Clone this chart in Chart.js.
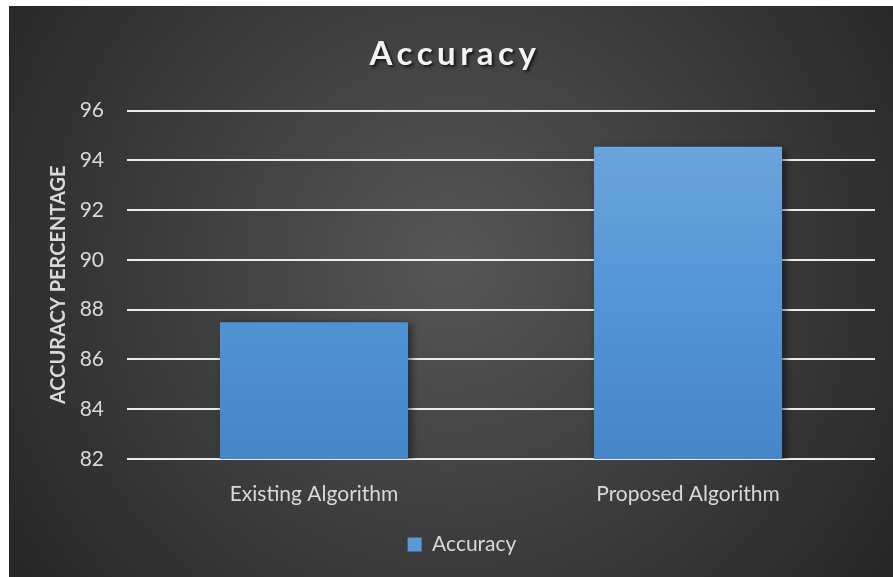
<!DOCTYPE html>
<html>
<head>
<meta charset="utf-8">
<script src="https://cdn.jsdelivr.net/npm/chart.js@4/dist/chart.umd.min.js"></script>
<style>
  html, body { margin: 0; padding: 0; background: #fff; }
  #wrap { position: absolute; left: 9px; top: 6px; width: 884px; height: 571px; }
</style>
</head>
<body>
<div id="wrap"><canvas id="bar-chart"></canvas></div>
<script>
// Data for the bar chart
const categories = ["Existing Algorithm", "Proposed Algorithm"];
const accuracyValues = [87.5, 94.55];
const yTicks = [82, 84, 86, 88, 90, 92, 94, 96];

// dark radial background like the office theme
const backgroundPlugin = {
    id: 'darkBackground',
    beforeDraw(chart) {
        const c = chart.ctx;
        const w = chart.width, h = chart.height;
        const g = c.createRadialGradient(w * 0.5, h * 0.45, 10, w * 0.5, h * 0.45, w * 0.6);
        g.addColorStop(0, '#555555');
        g.addColorStop(1, '#272727');
        c.save();
        c.fillStyle = g;
        c.fillRect(0, 0, w, h);
        c.restore();
    }
};

// soft shadow to the right of the bars
const shadowPlugin = {
    id: 'barShadow',
    beforeDatasetDraw(chart) {
        chart.ctx.save();
        chart.ctx.shadowColor = 'rgba(0,0,0,0.55)';
        chart.ctx.shadowBlur = 8;
        chart.ctx.shadowOffsetX = 3;
        chart.ctx.shadowOffsetY = 2;
    },
    afterDatasetDraw(chart) {
        chart.ctx.restore();
    }
};

// nudge title + legend a bit to the right, spaced title with shadow
const boxTweaks = {
    id: 'boxTweaks',
    afterLayout(chart) {
        const t = chart.titleBlock;
        if (t) {
            t.left += 13; t.right += 13;
            if (!t._wrapped) {
                const orig = t.draw;
                t.draw = function () {
                    const c = chart.ctx;
                    c.save();
                    c.letterSpacing = '4.5px';
                    c.shadowColor = 'rgba(0,0,0,0.7)';
                    c.shadowBlur = 3;
                    c.shadowOffsetX = 2;
                    c.shadowOffsetY = 2;
                    orig.call(this);
                    c.restore();
                };
                t._wrapped = true;
            }
        }
        const l = chart.legend;
        if (l) { l.left += 20; l.right += 20; }
    }
};

function barGradient(context) {
    const area = context.chart.chartArea;
    if (!area) return '#5b9bd5';
    const g = context.chart.ctx.createLinearGradient(0, area.top, 0, area.bottom);
    g.addColorStop(0, '#72a7dc');
    g.addColorStop(0.5, '#5497d8');
    g.addColorStop(1, '#4486c8');
    return g;
}

const ctx = document.getElementById('bar-chart').getContext('2d');
new Chart(ctx, {
    type: 'bar',
    data: {
        labels: categories,
        datasets: [{
            label: 'Accuracy',
            data: accuracyValues,
            backgroundColor: barGradient,
            borderWidth: 0,
            categoryPercentage: 1,
            barPercentage: 0.503
        }]
    },
    plugins: [backgroundPlugin, shadowPlugin, boxTweaks],
    options: {
        responsive: true,
        maintainAspectRatio: false,
        animation: false,
        layout: { padding: { left: 0, right: 18, top: 0, bottom: 12 } },
        plugins: {
            title: {
                display: true,
                text: 'Accuracy',
                color: '#f2f2f2',
                font: { family: 'Lato', size: 33, weight: 'bold' },
                padding: { top: 29, bottom: 36 }
            },
            legend: {
                position: 'bottom',
                labels: {
                    color: '#d9d9d9',
                    font: { family: 'Lato', size: 21 },
                    boxWidth: 14,
                    boxHeight: 14,
                    padding: 10,
                    generateLabels(chart) {
                        return [{
                            text: 'Accuracy',
                            fillStyle: '#5b9bd5',
                            strokeStyle: '#5b9bd5',
                            lineWidth: 0,
                            fontColor: '#d9d9d9',
                            datasetIndex: 0
                        }];
                    }
                }
            },
            tooltip: { enabled: false }
        },
        scales: {
            x: {
                grid: { display: false },
                border: { display: false },
                afterFit(scale) {
                    scale.height = 65;
                },
                ticks: {
                    color: '#d9d9d9',
                    font: { family: 'Lato', size: 21 },
                    padding: 15
                }
            },
            y: {
                min: 82,
                max: 96,
                afterBuildTicks(scale) {
                    scale.ticks = yTicks.map(v => ({ value: v }));
                },
                afterFit(scale) {
                    scale.width = 118;
                },
                grid: {
                    color: '#ececec',
                    lineWidth: 2,
                    drawTicks: false
                },
                border: { display: false },
                ticks: {
                    color: '#d9d9d9',
                    font: { family: 'Lato', size: 21 },
                    padding: 23
                },
                title: {
                    display: true,
                    text: 'ACCURACY PERCENTAGE',
                    color: '#d9d9d9',
                    font: { family: 'Lato', size: 20, weight: 'bold' },
                    padding: { top: 38, bottom: 0 }
                }
            }
        }
    }
});
</script>
</body>
</html>
